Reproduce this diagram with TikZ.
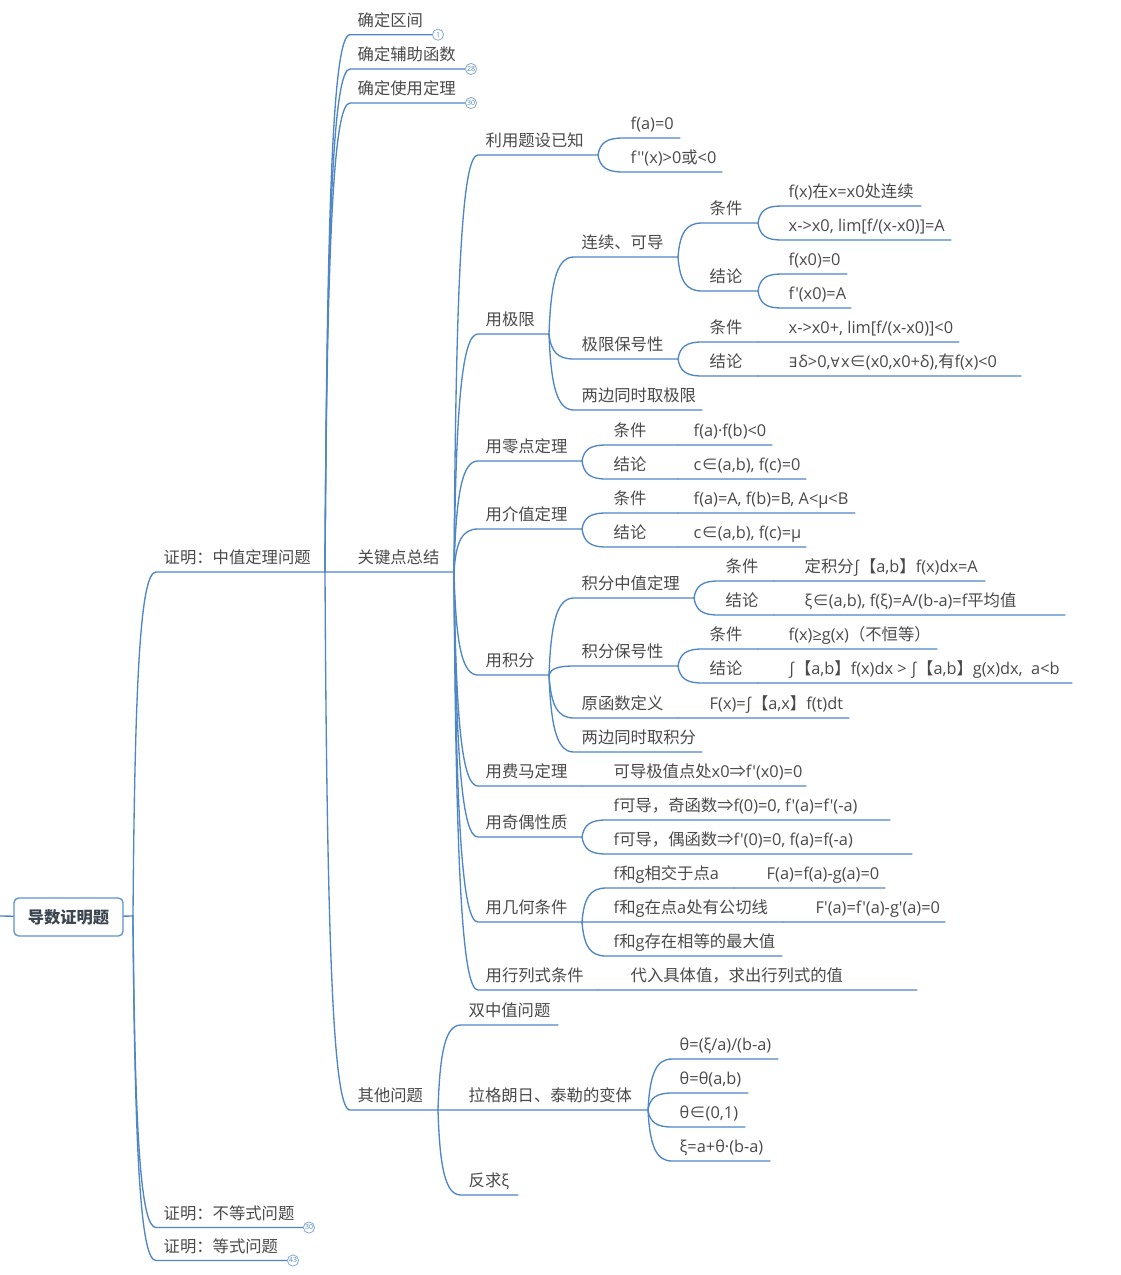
\documentclass[tikz,border=0pt]{standalone}
\usepackage{fontspec}
\usetikzlibrary{calc}
\setmainfont{Open Sans}[Ligatures=TeXOff]
\newfontfamily\cjk{Noto Sans CJK SC}
\newfontfamily\symf{DejaVu Sans}
\newcommand\C[1]{{\cjk #1}}
\newcommand\Q[1]{{\symf\fontsize{10pt}{11pt}\selectfont #1\kern1pt}}
\definecolor{branch}{HTML}{4F86C6}
\definecolor{ink}{HTML}{4A4A4A}
\definecolor{rootink}{HTML}{3C4650}
\definecolor{rootline}{HTML}{5B93D3}
\tikzset{
  topicnode/.style={anchor=south west,inner xsep=0pt,inner ysep=1.9pt,outer sep=0pt,text=ink,
    text depth=4.35pt,font=\fontsize{12.25pt}{14pt}\selectfont},
  branchline/.style={draw=branch,line width=1pt,line cap=round},
  rootbox/.style={draw=rootline,line width=1pt,fill=white,rounded corners=3.5pt,minimum width=81.75pt,
    minimum height=28.5pt,inner sep=0pt,text=rootink,font=\fontsize{12.2pt}{14pt}\selectfont\bfseries},
  badge/.style={circle,draw=branch!70,line width=.6pt,fill=white,minimum size=8.4pt,inner sep=0pt,
    text=branch,font=\fontsize{5.2pt}{6pt}\selectfont},
}
\expandafter\gdef\csname yroot\endcsname{916}
% name, parent, text x, end x, line y, text
\newcommand\topic[6]{%
  \pgfmathsetlengthmacro\tw{(#4-#3+8)*0.75pt}%
  \node[topicnode] (#1) at (#3-8,#5) {\makebox[\tw][l]{\hspace*{5.8pt}#6}};
  \coordinate (#1e) at (#1.south east);
  \expandafter\gdef\csname y#1\endcsname{#5}%
  \ifdim #5pt=\csname y#2\endcsname pt
    \draw[branchline] (#2e) -- ([yshift=0.05pt]#1e);
  \else
    \draw[branchline] let \p1=(#2e), \p2=(#1.south west) in
      (\p1) .. controls ({\x1+0.08*(\x2-\x1)},{\y1+0.72*(\y2-\y1)}) and ({\x1+0.35*(\x2-\x1)},\y2) .. (\p2) -- (#1e);
  \fi
}
\begin{document}
\begin{tikzpicture}[x=0.75pt,y=-0.75pt]
\useasboundingbox (0,0) rectangle (1121,1275);
\fill[white] (0,0) rectangle (1121,1275);
\coordinate (rootin) at (0,916);
\coordinate (roote) at (133,916);
\node[rootbox] (root) at (68.5,917) {\C{\bfseries 导数证明题}};
\draw[branchline] (rootin) -- (root);
\draw[branchline] (root) -- (roote);

\topic{a}{root}{164}{325}{572}{\C{证明：中值定理问题}}
\topic{b}{root}{164}{303}{1227.5}{\C{证明：不等式问题}}
\topic{c}{root}{164}{287}{1260.5}{\C{证明：等式问题}}
\node[badge] (bb) at (309,1227.5) {30};
\node[badge] (bc) at (293,1260.5) {43};

\topic{a1}{a}{358}{432}{34.7}{\C{确定区间}}
\topic{a2}{a}{358}{465}{69}{\C{确定辅助函数}}
\topic{a3}{a}{358}{465}{103}{\C{确定使用定理}}
\topic{a4}{a}{358}{454}{572}{\C{关键点总结}}
\topic{a5}{a}{358}{438}{1110}{\C{其他问题}}
\node[badge] (ba1) at (438,34.7) {1};
\node[badge] (ba2) at (471,69) {28};
\node[badge] (ba3) at (471,103) {30};

\topic{k1}{a4}{486}{598}{155}{\C{利用题设已知}}
\topic{k2}{a4}{486}{549}{334}{\C{用极限}}
\topic{k3}{a4}{486}{582}{461}{\C{用零点定理}}
\topic{k4}{a4}{486}{582}{529}{\C{用介值定理}}
\topic{k5}{a4}{486}{549}{675}{\C{用积分}}
\topic{k6}{a4}{486}{582}{786}{\C{用费马定理}}
\topic{k7}{a4}{486}{582}{837}{\C{用奇偶性质}}
\topic{k8}{a4}{486}{582}{922}{\C{用几何条件}}
\topic{k9}{a4}{486}{598}{990}{\C{用行列式条件}}

\topic{k1a}{k1}{631}{680}{138}{f(a)=0}
\topic{k1b}{k1}{631}{722}{172}{f''(x)>0\C{或}<0}

\topic{k2a}{k2}{582}{678}{257}{\C{连续、可导}}
\topic{k2b}{k2}{582}{678}{359}{\C{极限保号性}}
\topic{k2c}{k2}{582}{702}{410}{\C{两边同时取极限}}
\topic{k2a1}{k2a}{710}{758}{223}{\C{条件}}
\topic{k2a2}{k2a}{710}{758}{291}{\C{结论}}
\topic{k2a1x}{k2a1}{789}{921}{206}{f(x)\C{在}x=x0\C{处连续}}
\topic{k2a1y}{k2a1}{789}{951}{240}{x->x0, lim[f/(x-x0)]=A}
\topic{k2a2x}{k2a2}{789}{847}{274}{f(x0)=0}
\topic{k2a2y}{k2a2}{789}{851}{308}{f'(x0)=A}
\topic{k2b1}{k2b}{710}{758}{342}{\C{条件}}
\topic{k2b2}{k2b}{710}{758}{376}{\C{结论}}
\topic{k2b1x}{k2b1}{789}{959}{342}{x->x0+, lim[f/(x-x0)]<0}
\topic{k2b2x}{k2b2}{789}{1021}{376}{\Q{∃}δ>0,\Q{∀}x\C{∈}(x0,x0+δ),\C{有}f(x)<0}

\topic{k3a}{k3}{614}{678}{445}{\C{条件}}
\topic{k3b}{k3}{614}{678}{479}{\C{结论}}
\topic{k3ax}{k3a}{694}{772}{445}{f(a)·f(b)<0}
\topic{k3bx}{k3b}{694}{806}{479}{c\C{∈}(a,b), f(c)=0}

\topic{k4a}{k4}{614}{678}{513}{\C{条件}}
\topic{k4b}{k4}{614}{678}{547}{\C{结论}}
\topic{k4ax}{k4a}{694}{855}{513}{f(a)=A, f(b)=B, A<μ<B}
\topic{k4bx}{k4b}{694}{806}{547}{c\C{∈}(a,b), f(c)=μ}

\topic{k5a}{k5}{582}{694}{598}{\C{积分中值定理}}
\topic{k5b}{k5}{582}{678}{666}{\C{积分保号性}}
\topic{k5c}{k5}{582}{678}{718}{\C{原函数定义}}
\topic{k5d}{k5}{582}{702}{752}{\C{两边同时取积分}}
\topic{k5a1}{k5a}{726}{774}{581}{\C{条件}}
\topic{k5a2}{k5a}{726}{774}{615}{\C{结论}}
\topic{k5a1x}{k5a1}{805}{985}{581}{\C{定积分}∫\C{【}a,b\C{】}f(x)dx=A}
\topic{k5a2x}{k5a2}{805}{1065}{615}{ξ\C{∈}(a,b), f(ξ)=A/(b-a)=f\C{平均值}}
\topic{k5b1}{k5b}{710}{758}{649}{\C{条件}}
\topic{k5b2}{k5b}{710}{758}{683}{\C{结论}}
\topic{k5b1x}{k5b1}{789}{937}{649}{f(x)≥g(x)\C{（不恒等）}}
\topic{k5b2x}{k5b2}{789}{1072}{683}{∫\C{【}a,b\C{】}f(x)dx > ∫\C{【}a,b\C{】}g(x)dx,\ \ a<b}
\topic{k5cx}{k5c}{710}{849}{718}{F(x)=∫\C{【}a,x\C{】}f(t)dt}

\topic{k6x}{k6}{614}{806}{786}{\C{可导极值点处}x0\C{⇒}f'(x0)=0}
\topic{k7a}{k7}{614}{890}{820}{f\C{可导，奇函数⇒}f(0)=0, f'(a)=f'(-a)}
\topic{k7b}{k7}{614}{912}{854}{f\C{可导，偶函数⇒}f'(0)=0, f(a)=f(-a)}
\topic{k8a}{k8}{614}{734}{888}{f\C{和}g\C{相交于点}a}
\topic{k8b}{k8}{614}{783}{922}{f\C{和}g\C{在点}a\C{处有公切线}}
\topic{k8c}{k8}{614}{782}{956}{f\C{和}g\C{存在相等的最大值}}
\topic{k8ax}{k8a}{767}{885}{888}{F(a)=f(a)-g(a)=0}
\topic{k8bx}{k8b}{816}{945}{922}{F'(a)=f'(a)-g'(a)=0}
\topic{k9x}{k9}{631}{917}{990}{\C{代入具体值，求出行列式的值}}

\topic{o1}{a5}{469}{558}{1025}{\C{双中值问题}}
\topic{o2}{a5}{469}{648}{1110}{\C{拉格朗日、泰勒的变体}}
\topic{o3}{a5}{469}{518}{1195}{\C{反求}ξ}
\topic{o2a}{o2}{680}{778}{1059}{θ=(ξ/a)/(b-a)}
\topic{o2b}{o2}{680}{748}{1093}{θ=θ(a,b)}
\topic{o2c}{o2}{680}{745}{1127}{θ\C{∈}(0,1)}
\topic{o2d}{o2}{680}{770}{1161}{ξ=a+θ·(b-a)}
\end{tikzpicture}
\end{document}
